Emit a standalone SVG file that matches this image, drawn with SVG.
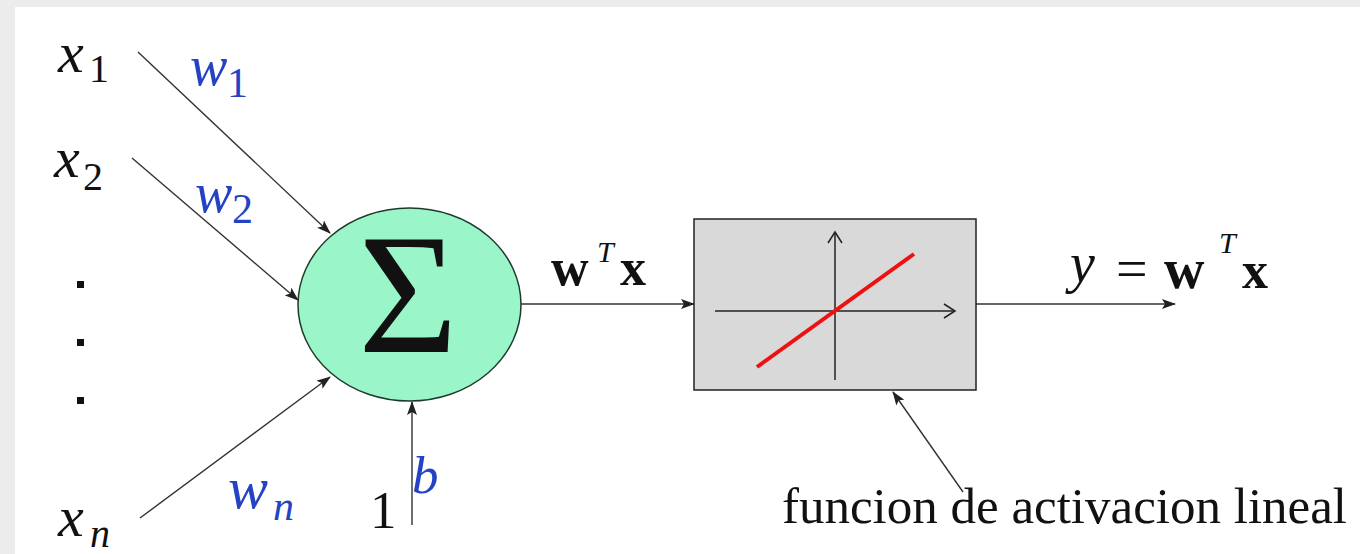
<svg xmlns="http://www.w3.org/2000/svg" width="1360" height="554" viewBox="0 0 1360 554">
<defs>
<style>
.t{font-family:"Liberation Serif","Times New Roman",serif;fill:#111}
.i{font-style:italic}
.b{font-weight:bold}
.blue{fill:#2443c4}
.ln{stroke:#333;stroke-width:1.4;fill:none}
.ax{stroke:#222;stroke-width:1.5;fill:none}
</style>
<marker id="ah" markerUnits="userSpaceOnUse" markerWidth="14" markerHeight="10" refX="13" refY="5" orient="auto">
<path d="M0,0 L14,5 L0,10 L3,5 Z" fill="#222"/>
</marker>
<marker id="oa" markerUnits="userSpaceOnUse" markerWidth="14" markerHeight="16" refX="12" refY="8" orient="auto">
<path d="M1,1 L12,8 L1,15" fill="none" stroke="#222" stroke-width="1.5"/>
</marker>
</defs>
<rect width="1360" height="554" fill="#ececec"/>
<rect x="15" y="7" width="1345" height="547" fill="#ffffff"/>

<g id="connectors">
<line class="ln" x1="138" y1="52" x2="330" y2="233" marker-end="url(#ah)"/>
<line class="ln" x1="132" y1="158" x2="298" y2="300" marker-end="url(#ah)"/>
<line class="ln" x1="140" y1="518" x2="330" y2="377" marker-end="url(#ah)"/>
<line class="ln" x1="412" y1="525" x2="412" y2="402" marker-end="url(#ah)"/>
<line class="ln" x1="521" y1="304" x2="694" y2="304" marker-end="url(#ah)"/>
<line class="ln" x1="976" y1="304" x2="1175" y2="304" marker-end="url(#ah)"/>
<line class="ln" x1="963" y1="492" x2="893" y2="392" marker-end="url(#ah)"/>
</g>

<g id="inputs">
<text class="t i" x="58" y="72" font-size="58">x</text>
<text class="t" x="89" y="82" font-size="40">1</text>
<text class="t i" x="54" y="177" font-size="58">x</text>
<text class="t" x="83" y="190" font-size="40">2</text>
<rect x="77" y="281" width="7" height="7" fill="#111"/>
<rect x="77" y="339" width="7" height="7" fill="#111"/>
<rect x="77" y="397" width="7" height="7" fill="#111"/>
<text class="t i" x="58" y="536" font-size="58">x</text>
<text class="t i" x="90" y="547" font-size="40">n</text>
<text class="t" x="370" y="528" font-size="53">1</text>
</g>

<g id="weights">
<text class="t i blue" x="190" y="85" font-size="56">w</text>
<text class="t blue" x="227" y="97" font-size="42">1</text>
<text class="t i blue" x="195" y="212" font-size="56">w</text>
<text class="t blue" x="232" y="223" font-size="42">2</text>
<text class="t i blue" x="228" y="508" font-size="60">w</text>
<text class="t i blue" x="273" y="520" font-size="42">n</text>
<text class="t i blue" x="412" y="493" font-size="53">b</text>
</g>

<g id="sum">
<ellipse cx="409.5" cy="304.5" rx="111.5" ry="96.5" fill="#9af5c8" stroke="#1e3a2a" stroke-width="1.5"/>
<text class="t" x="408" y="352" font-size="171" text-anchor="middle">Σ</text>
</g>

<g id="net-label">
<text class="t b" x="551" y="285" font-size="52">w</text>
<text class="t i" x="597" y="262" font-size="30">T</text>
<text class="t b" x="620" y="285" font-size="52">x</text>
</g>

<g id="activation">
<rect x="694" y="219" width="282" height="171" fill="#d9d9d9" stroke="#222" stroke-width="1.5"/>
<line class="ax" x1="715" y1="311" x2="955" y2="311" marker-end="url(#oa)"/>
<line class="ax" x1="835" y1="380" x2="835" y2="232" marker-end="url(#oa)"/>
<line x1="757" y1="367" x2="914" y2="254" stroke="#ee1111" stroke-width="4"/>
</g>

<g id="output">
<text class="t i" x="1070" y="282" font-size="56">y</text>
<text class="t" x="1116" y="288" font-size="56">=</text>
<text class="t b" x="1164" y="288" font-size="56">w</text>
<text class="t i" x="1219" y="253" font-size="30">T</text>
<text class="t b" x="1242" y="288" font-size="52">x</text>
</g>

<g id="annotation">
<text class="t" x="782" y="523" font-size="51">funcion de activacion lineal</text>
</g>
</svg>
